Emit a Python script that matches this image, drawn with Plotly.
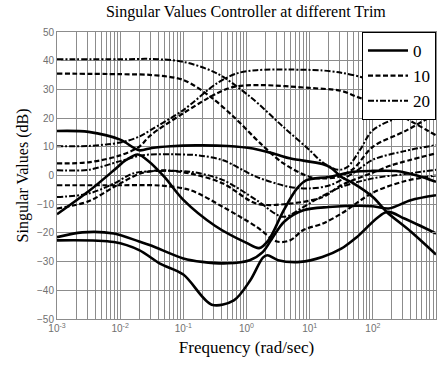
import numpy as np
import plotly.graph_objects as go

# log10(frequency) and magnitude (dB) for each singular value, per trim
trim0 = [
    ([-3, -2.5, -2, -1.7, -1.5, -1.2, -0.8, -0.3, 0.1, 0.45, 0.7, 1.2, 1.35, 1.5, 1.7, 2.0, 2.22, 2.6, 3],
     [15.5, 15.2, 12.5, 8.8, 9.6, 10.2, 10.5, 10.3, 9.4, 7.5, 5.9, 4.0, 2.5, -0.5, -2.8, -7.5, -12.7, -19.5, -27.5]),
    ([-3, -2.5, -2.1, -1.9, -1.72, -1.55, -1.3, -1.0, -0.5, 0, 0.2, 0.35, 0.58, 0.8, 0.95, 1.3, 1.7, 2.0, 2.4, 2.7, 3],
     [-13.5, -5.5, 1.8, 5.5, 7.3, 5.0, -0.5, -8.5, -17.5, -23.5, -25.3, -22.5, -12.5, -4.5, -1.6, -0.5, 1.3, 1.6, 1.5, 0.0, -2.2]),
    ([-3, -2.6, -2.1, -1.7, -1.5, -1.0, -0.7, -0.3, 0.05, 0.26, 0.42, 0.6, 0.9, 1.3, 2.0, 2.25, 2.6, 3],
     [-21.5, -19.8, -20.2, -23.0, -24.5, -28.9, -30.1, -30.6, -29.5, -26.6, -21.4, -16.0, -12.1, -11.0, -10.7, -11.5, -8.6, -6.9]),
    ([-3, -2.1, -1.7, -1.37, -1.0, -0.55, -0.2, 0.06, 0.26, 0.33, 0.5, 0.85, 1.2, 1.5, 1.75, 2.22, 2.5, 3],
     [-22.6, -23.2, -26.0, -30.7, -34.5, -45.0, -43.5, -36.5, -28.6, -27.8, -29.5, -30.1, -28.4, -25.5, -21.4, -12.7, -15.0, -20.2]),
]
trim10 = [
    ([-3, -2, -1.5, -1.0, -0.57, -0.2, 0.22, 0.58, 1.0, 1.2, 1.45, 1.7, 2.0, 2.54, 3],
     [35.5, 35.3, 35.0, 33.3, 27.4, 20.4, 11.2, 4.3, -0.5, -1.0, -0.5, 2.5, 10.0, 15.8, 21.6]),
    ([-3, -2.5, -2.0, -1.7, -1.52, -1.0, -0.47, -0.2, 0.22, 1.0, 1.5, 1.75, 2.17, 2.43, 3],
     [4.2, 4.6, 7.0, 10.0, 14.0, 21.7, 28.6, 30.9, 31.5, 30.5, 29.5, 27.4, 23.9, 21.0, 14.0]),
    ([-3, -2, -1.37, -0.89, -0.37, 0.16, 0.48, 0.69, 0.9, 1.21, 1.5, 2.0, 2.5, 3],
     [-3.4, -3.4, -3.5, -5.1, -11.0, -17.9, -23.0, -22.6, -19.0, -16.7, -13.3, -6.0, -2.0, 0.0]),
    ([-3, -2.5, -2.1, -1.68, -1.37, -0.89, -0.37, 0.16, 0.69, 1.21, 1.5, 2.0, 2.3, 3],
     [-11.5, -9.0, -4.0, 0.7, 1.8, 0.7, -2.8, -9.8, -9.8, -7.5, -3.4, 1.0, 3.6, 7.7]),
]
trim20 = [
    ([-3, -2, -1.5, -1.0, -0.47, 0.06, 0.58, 1.0, 1.2, 1.45, 1.6, 1.8, 2.0, 2.43, 3],
     [40.5, 40.5, 40.6, 39.6, 35.6, 27.4, 17.0, 8.8, 4.7, 2.0, 3.0, 9.0, 15.8, 20.4, 24.5]),
    ([-3, -2.5, -2.0, -1.7, -1.52, -1.0, -0.47, -0.15, 0.16, 0.7, 1.2, 1.5, 1.85, 2.2, 2.6, 3],
     [10.2, 10.3, 11.5, 13.5, 15.8, 22.8, 32.1, 35.6, 36.7, 36.9, 36.6, 35.8, 34.0, 30.0, 27.0, 25.7]),
    ([-3, -2.5, -2.0, -1.64, -1.0, -0.75, -0.37, 0.16, 0.69, 1.0, 1.32, 1.7, 2.0, 2.5, 3],
     [1.8, 2.0, 5.0, 7.1, 7.3, 7.0, 5.3, -0.5, -4.0, -4.5, -3.4, 1.0, 5.5, 8.5, 10.6]),
    ([-3, -2.5, -2.1, -1.8, -1.5, -0.89, -0.37, 0.16, 0.58, 0.9, 1.17, 1.5, 2.0, 2.5, 3],
     [-7.5, -6.3, -2.8, 0.7, 1.5, 1.3, -1.6, -8.6, -14.4, -11.0, -7.5, -4.0, -1.0, 0.5, 2.0]),
]

groups = [("0", trim0, "solid", 2.6), ("10", trim10, "5px,2.5px", 2.2), ("20", trim20, "6px,2px,2px,2px", 2.0)]

fig = go.Figure()
for name, curves, dash, w in groups:
    for i, (lx, db) in enumerate(curves):
        fig.add_trace(go.Scatter(
            x=[10 ** v for v in lx], y=db, mode="lines", name=name,
            legendgroup=name, showlegend=(i == 0),
            line=dict(color="black", width=w, dash=dash, shape="spline", smoothing=0.9),
        ))

major = [10.0 ** k for k in range(-3, 4)]
minor = [m * 10.0 ** k for k in range(-3, 3) for m in range(2, 10)]
xticktext = ["10<sup>%d</sup>" % k for k in range(-3, 4)]
yticks = list(range(-50, 51, 10))

serif = "Liberation Serif, Times New Roman, serif"
grid = "#8c8c8c"
fig.update_layout(
    width=443, height=365,
    margin=dict(l=57, r=7, t=32, b=46),
    paper_bgcolor="white", plot_bgcolor="white",
    title=dict(text="Singular Values Controller at different Trim", x=0.555, xanchor="center",
               y=0.985, yanchor="top",
               font=dict(family=serif, size=16, color="black")),
    legend=dict(x=1, y=1, xanchor="right", yanchor="top", bgcolor="white",
                bordercolor="black", borderwidth=1,
                font=dict(family=serif, size=17, color="black"),
                tracegroupgap=0, itemwidth=40),
    xaxis=dict(type="log", range=[-3, 3], tickvals=major, ticktext=xticktext,
               showgrid=True, gridcolor=grid, gridwidth=1,
               ticks="inside", ticklen=4, tickcolor=grid, mirror="ticks",
               showline=True, linecolor=grid, linewidth=1,
               tickfont=dict(family="Liberation Sans", size=10, color="#707070"),
               minor=dict(tickvals=minor, showgrid=True, gridcolor=grid, gridwidth=1,
                          ticks="inside", ticklen=3, tickcolor=grid),
               title=dict(text="Frequency (rad/sec)", standoff=8,
                          font=dict(family=serif, size=17, color="black"))),
    yaxis=dict(range=[-50, 50], tickvals=yticks,
               showgrid=True, gridcolor=grid, gridwidth=1,
               ticks="inside", ticklen=4, tickcolor=grid, mirror="ticks",
               showline=True, linecolor=grid, linewidth=1, zeroline=False,
               tickfont=dict(family="Liberation Sans", size=10, color="#707070"),
               title=dict(text="Singular Values (dB)", standoff=4,
                          font=dict(family=serif, size=16, color="black"))),
)

fig.write_html("out.html")
